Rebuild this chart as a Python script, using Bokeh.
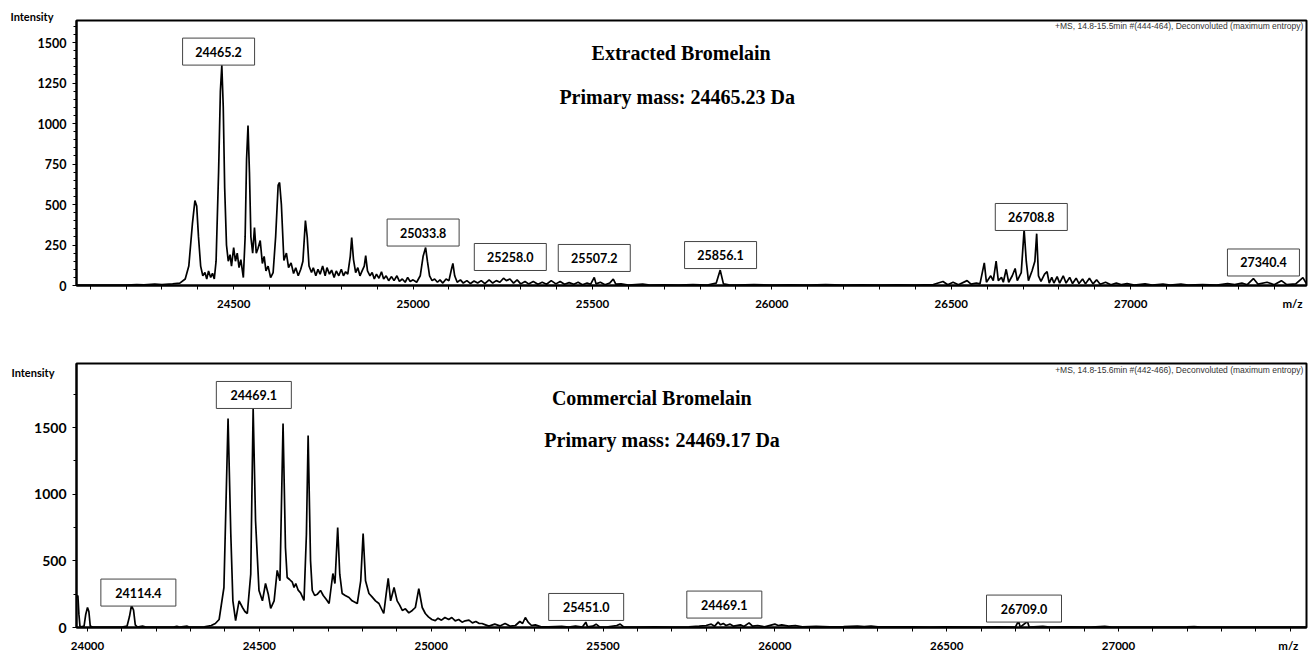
from bokeh.plotting import figure
from bokeh.layouts import column
from bokeh.models import Label, SingleIntervalTicker, FixedTicker, Range1d, ColumnDataSource
from bokeh.embed import file_html
from bokeh.resources import INLINE
from bokeh.core.properties import value

# ---------------- Extracted bromelain spectrum (mass, intensity) ----------------
ext_mass = [24062, 24200, 24230, 24250, 24280, 24300, 24330, 24350, 24365, 24375, 24385, 24392, 24397,
            24402, 24408, 24414, 24420, 24425, 24430, 24436, 24441, 24446, 24451, 24458, 24463, 24467,
            24471, 24475, 24480, 24485, 24490, 24494, 24500, 24505, 24510, 24515, 24520, 24527, 24532,
            24536, 24540, 24544, 24548, 24553, 24558, 24563, 24568, 24574, 24580, 24585, 24590, 24596,
            24603, 24610, 24617, 24624, 24628, 24633, 24640, 24647, 24653, 24660, 24667, 24673, 24680,
            24687, 24693, 24700, 24705, 24710, 24717, 24722, 24729, 24735, 24741, 24748, 24755, 24760,
            24767, 24773, 24780, 24786, 24793, 24800, 24806, 24812, 24818, 24825, 24829, 24834, 24840,
            24846, 24852, 24858, 24864, 24868, 24873, 24880, 24886, 24892, 24898, 24905, 24912, 24918,
            24925, 24932, 24940, 24947, 24955, 24962, 24970, 24978, 24985, 24992, 25000, 25010, 25020,
            25028, 25035, 25040, 25046, 25053, 25060, 25068, 25075, 25083, 25092, 25100, 25107, 25111,
            25116, 25123, 25132, 25140, 25150, 25160, 25170, 25180, 25190, 25200, 25212, 25222, 25232,
            25242, 25252, 25260, 25270, 25280, 25290, 25300, 25312, 25322, 25335, 25348, 25360, 25372,
            25385, 25398, 25410, 25422, 25435, 25448, 25460, 25472, 25485, 25495, 25505, 25510, 25522,
            25535, 25548, 25558, 25565, 25580, 25600, 25640, 25660, 25700, 25740, 25780, 25820, 25845,
            25856, 25865, 25880, 25900, 25950, 26000, 26050, 26100, 26150, 26200, 26250, 26300, 26350,
            26400, 26450, 26477, 26490, 26505, 26520, 26544, 26555, 26570, 26580, 26592, 26598, 26610,
            26617, 26625, 26631, 26640, 26645, 26653, 26660, 26670, 26678, 26684, 26695, 26703, 26709,
            26715, 26725, 26733, 26738, 26743, 26750, 26760, 26767, 26773, 26780, 26786, 26795, 26802,
            26812, 26820, 26830, 26838, 26848, 26856, 26866, 26874, 26885, 26895, 26905, 26915, 26930,
            26945, 26960, 26975, 26990, 27010, 27040, 27060, 27090, 27110, 27140, 27160, 27200, 27240,
            27270, 27290, 27310, 27325, 27342, 27355, 27380, 27400, 27420, 27435, 27460, 27480, 27490]
ext_int = [3, 3, 6, 4, 8, 5, 10, 15, 40, 120, 380, 524, 490,
           300, 120, 60, 80, 40, 90, 50, 75, 40, 150, 700, 1200, 1360,
           1100, 600, 250, 150, 190, 120, 234, 150, 200, 111, 160, 49, 300,
           780, 987, 700, 300, 200, 358, 200, 230, 278, 136, 180, 90, 120,
           49, 80, 300, 620, 636, 500, 154, 200, 111, 140, 74, 110, 60,
           100, 150, 401, 300, 120, 80, 110, 60, 100, 70, 120, 60, 110,
           70, 95, 50, 90, 60, 100, 60, 85, 70, 180, 296, 160, 80,
           110, 60, 90, 120, 185, 90, 60, 80, 40, 70, 45, 85, 40,
           60, 30, 55, 30, 60, 25, 40, 20, 50, 25, 35, 20, 60,
           180, 234, 150, 60, 30, 40, 20, 35, 15, 40, 30, 100, 136,
           60, 20, 35, 15, 30, 12, 28, 15, 30, 12, 35, 15, 30,
           20, 45, 30, 40, 15, 35, 10, 25, 10, 25, 8, 20, 8,
           30, 10, 25, 8, 18, 8, 20, 5, 15, 8, 50, 10, 20,
           5, 15, 40, 8, 10, 3, 8, 3, 4, 3, 5, 3, 15,
           95, 10, 4, 3, 5, 3, 4, 3, 5, 3, 4, 3, 4,
           3, 6, 25, 5, 20, 5, 30, 8, 15, 10, 140, 20, 60,
           30, 150, 30, 50, 20, 100, 20, 60, 105, 30, 80, 345, 150,
           30, 90, 150, 320, 60, 25, 70, 85, 15, 50, 15, 55, 15,
           60, 15, 50, 12, 45, 12, 40, 10, 45, 10, 35, 8, 20,
           5, 15, 5, 12, 3, 10, 3, 8, 3, 8, 3, 5, 3,
           12, 5, 15, 5, 43, 8, 20, 5, 30, 5, 10, 49, 10]

# ---------------- Commercial bromelain spectrum (mass, intensity) ----------------
com_mass = [23968, 23972, 23975, 23978, 23982, 23990, 23995, 24000, 24004, 24008, 24015, 24050, 24100,
            24115, 24122, 24128, 24134, 24139, 24145, 24160, 24170, 24250, 24260, 24268, 24290, 24296,
            24340, 24360, 24372, 24383, 24397, 24409, 24417, 24423, 24431, 24441, 24451, 24458, 24465,
            24475, 24482, 24489, 24499, 24509, 24518, 24526, 24533, 24543, 24552, 24560, 24569, 24576,
            24581, 24588, 24596, 24601, 24606, 24613, 24620, 24630, 24637, 24642, 24649, 24654, 24661,
            24669, 24678, 24686, 24695, 24703, 24714, 24720, 24728, 24734, 24741, 24750, 24761, 24770,
            24785, 24795, 24802, 24809, 24819, 24828, 24838, 24848, 24862, 24869, 24875, 24882, 24892,
            24901, 24908, 24916, 24925, 24935, 24945, 24954, 24964, 24974, 24983, 24992, 25002, 25012,
            25020, 25030, 25040, 25051, 25060, 25070, 25080, 25090, 25099, 25110, 25120, 25130, 25140,
            25148, 25158, 25168, 25185, 25200, 25215, 25230, 25245, 25258, 25266, 25274, 25282, 25292,
            25303, 25320, 25342, 25380, 25400, 25420, 25440, 25450, 25455, 25470, 25480, 25490, 25510,
            25540, 25550, 25560, 25600, 25650, 25700, 25750, 25780, 25800, 25815, 25825, 25835, 25842,
            25850, 25858, 25870, 25880, 25900, 25910, 25925, 25935, 25950, 25970, 26000, 26010, 26020,
            26040, 26060, 26080, 26120, 26160, 26200, 26240, 26260, 26280, 26300, 26340, 26400, 26450,
            26500, 26600, 26650, 26700, 26709, 26714, 26735, 26740, 26780, 26800, 26850, 26920, 26960,
            26980, 27100, 27200, 27220, 27240, 27400, 27547]
com_int = [225, 240, 100, 10, 5, 10, 100, 150, 120, 10, 3, 3, 3,
           10, 80, 165, 130, 20, 3, 10, 3, 3, 8, 3, 10, 3,
           5, 15, 30, 60, 300, 1567, 700, 200, 52, 200, 150, 120, 105,
           400, 1642, 800, 278, 200, 330, 250, 143, 200, 428, 350, 1530, 600,
           375, 360, 340, 300, 330, 280, 260, 203, 700, 1440, 500, 278, 240,
           250, 278, 240, 210, 180, 405, 330, 750, 400, 255, 240, 225, 200,
           180, 350, 705, 350, 255, 230, 200, 180, 105, 250, 368, 200, 300,
           200, 170, 128, 140, 110, 128, 150, 292, 150, 105, 80, 60, 52,
           70, 55, 75, 60, 75, 50, 60, 40, 50, 55, 35, 45, 30,
           30, 20, 10, 25, 12, 30, 10, 15, 45, 30, 75, 40, 15,
           20, 5, 5, 8, 3, 10, 3, 40, 5, 10, 25, 5, 3,
           15, 25, 5, 3, 5, 3, 5, 10, 15, 25, 10, 40, 20,
           30, 15, 25, 10, 20, 8, 35, 10, 15, 5, 25, 15, 20,
           10, 15, 5, 8, 5, 6, 10, 6, 10, 5, 4, 5, 3,
           4, 3, 4, 3, 50, 3, 45, 3, 8, 3, 4, 3, 8,
           3, 3, 4, 6, 3, 3, 3]

# ---------------- Peak annotations ----------------
ext_label_text = ["24465.2", "25033.8", "25258.0", "25507.2", "25856.1", "26708.8", "27340.4"]
ext_label_x = [24458, 25028, 25271, 25505, 25857, 26723, 27370]
ext_label_y = [1444, 327, 176, 170, 188, 423, 142]

com_label_text = ["24114.4", "24469.1", "25451.0", "24469.1", "26709.0"]
com_label_x = [24148, 24484, 25451, 25853, 26725]
com_label_y = [262, 1744, 154, 172, 142]

# ---------------- Axis ticks ----------------
ext_xticks = [24500, 25000, 25500, 26000, 26500, 27000]
com_xticks = [24000, 24500, 25000, 25500, 26000, 26500, 27000]
ext_minor = list(range(24100, 27500, 100))
com_minor = list(range(24000, 27600, 100))
X_UNIT = "m/z"
Y_UNIT = "Intensity"

TICK_FONT = "Lato"


def make_panel(mass, inten, xr, yr, xticks, xminor, unit_pos, y_interval, y_minor, y_font,
               w, h, borders, lab_text, lab_x, lab_y, box_w, title, primary, title_xy,
               primary_xy, header, header_xy, ylab_offset, ylab_standoff):
    left, right, top, bottom = borders
    p = figure(width=w, height=h, output_backend="svg", toolbar_location=None,
               x_range=Range1d(*xr), y_range=Range1d(*yr),
               min_border_left=left, min_border_right=right,
               min_border_top=top, min_border_bottom=bottom)
    p.xgrid.visible = False
    p.ygrid.visible = False
    p.outline_line_color = "black"
    p.outline_line_width = 2
    p.background_fill_color = "white"
    p.border_fill_color = "white"

    # "Intensity" caption in the top-left corner, via the plot title
    p.title.text = Y_UNIT
    p.title.align = "left"
    p.title.offset = ylab_offset
    p.title.standoff = ylab_standoff
    p.title.vertical_align = "bottom"
    p.title.text_font = TICK_FONT
    p.title.text_font_style = "bold"
    p.title.text_font_size = "11px"
    p.title.text_color = "black"

    major = xticks + [unit_pos]
    p.xaxis.ticker = FixedTicker(ticks=major, minor_ticks=xminor)
    p.xaxis.major_label_overrides = {unit_pos: X_UNIT}
    p.yaxis.ticker = SingleIntervalTicker(interval=y_interval, num_minor_ticks=y_minor)
    for ax in (p.xaxis[0], p.yaxis[0]):
        ax.axis_line_color = "black"
        ax.axis_line_width = 2
        ax.major_tick_line_color = "black"
        ax.minor_tick_line_color = "black"
        ax.major_tick_in = 0
        ax.minor_tick_in = 0
        ax.major_tick_out = 4
        ax.minor_tick_out = 3
        ax.major_label_text_font = TICK_FONT
        ax.major_label_text_font_style = "bold"
        ax.major_label_text_color = "black"
    p.xaxis.major_tick_line_color = None
    p.xaxis.minor_tick_out = 4
    p.xaxis.major_label_text_font_size = "11.5px"
    p.yaxis.major_label_text_font_size = y_font
    p.xaxis.major_label_standoff = 7
    p.yaxis.major_label_standoff = 6

    p.line(mass, inten, line_color="black", line_width=1.7)

    src = ColumnDataSource(dict(x=lab_x, y=lab_y, t=lab_text))
    p.rect("x", "y", width=box_w, height=27, width_units="screen", height_units="screen",
           source=src, fill_color="white", line_color="#444444", line_width=1)
    p.text("x", "y", text="t", source=src, text_font=value(TICK_FONT), text_font_style="bold",
           text_font_size="12.5px", text_align="center", text_baseline="middle", text_color="black")

    for txt, xy in ((title, title_xy), (primary, primary_xy)):
        p.add_layout(Label(x=xy[0], y=xy[1], text=txt, text_font="Liberation Serif",
                           text_font_style="bold", text_font_size="20px", text_align="center",
                           text_baseline="middle", text_color="black"))
    p.add_layout(Label(x=header_xy[0], y=header_xy[1], text=header, text_font="Liberation Sans",
                       text_font_size="8.5px", text_align="right", text_baseline="middle",
                       text_color="#333333"))
    return p


p1 = make_panel(ext_mass, ext_int, (24062, 27490), (0, 1636), ext_xticks, ext_minor, 27451,
                250, 5, "12.5px", 1310, 348, (76, 4, 20, 63),
                ext_label_text, ext_label_x, ext_label_y, 72,
                "Extracted Bromelain", "Primary mass: 24465.23 Da", (25747, 1438), (25736, 1166),
                "+MS, 14.8-15.5min #(444-464), Deconvoluted (maximum entropy)", (27481, 1604),
                -66, -4)

p2 = make_panel(com_mass, com_int, (23968, 27547), (0, 1980), com_xticks, com_minor, 27494,
                500, 2, "14px", 1310, 307, (74, 4, 15, 28),
                com_label_text, com_label_x, com_label_y, 75,
                "Commercial Bromelain", "Primary mass: 24469.17 Da", (25642, 1718), (25672, 1403),
                "+MS, 14.8-15.6min #(442-466), Deconvoluted (maximum entropy)", (27538, 1935),
                -65, -30)

layout = column(p1, p2)
open("out.html", "w").write(file_html(layout, INLINE))
